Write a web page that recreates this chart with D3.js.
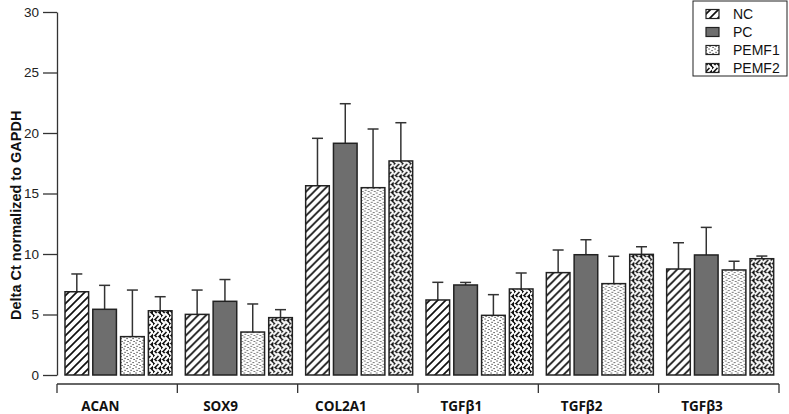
<!DOCTYPE html>
<html><head><meta charset="utf-8">
<script src="https://cdn.jsdelivr.net/npm/d3@7"></script>
<style>body{margin:0;background:#fff}svg{display:block}</style>
</head><body>
<svg id="c" width="789" height="414"></svg>
<script>
const categories = ["ACAN","SOX9","COL2A1","TGFβ1","TGFβ2","TGFβ3"];
const seriesNames = ["NC","PC","PEMF1","PEMF2"];
const NC    = [6.88, 5.01, 15.64, 6.20, 8.46, 8.76];
const NC_err= [1.47, 2.01, 3.92, 1.46, 1.87, 2.17];
const PC    = [5.43, 6.09, 19.15, 7.44, 9.94, 9.92];
const PC_err= [1.98, 1.80, 3.27, 0.21, 1.24, 2.28];
const PEMF1 = [3.17, 3.55, 15.48, 4.93, 7.55, 8.68];
const PEMF1_err=[3.85, 2.32, 4.85, 1.71, 2.26, 0.72];
const PEMF2 = [5.31, 4.74, 17.69, 7.11, 9.97, 9.61];
const PEMF2_err=[1.16, 0.66, 3.16, 1.32, 0.63, 0.22];
const yTicks = [0,5,10,15,20,25,30];
const yLabel = "Delta Ct normalized to GAPDH";

const values = {NC:NC, PC:PC, PEMF1:PEMF1, PEMF2:PEMF2};
const errs = {NC:NC_err, PC:PC_err, PEMF1:PEMF1_err, PEMF2:PEMF2_err};

const svg = d3.select("#c");
const defs = svg.append("defs");
// hatch
const ph = defs.append("pattern").attr("id","pNC").attr("patternUnits","userSpaceOnUse").attr("width",8).attr("height",8);
ph.append("rect").attr("width",8).attr("height",8).attr("fill","#fff");
ph.append("path").attr("d","M-2,2 L2,-2 M0,8 L8,0 M6,10 L10,6").attr("stroke","#111").attr("stroke-width",1.7);
// dots
const pd = defs.append("pattern").attr("id","pP1").attr("patternUnits","userSpaceOnUse").attr("width",6).attr("height",6);
pd.append("rect").attr("width",6).attr("height",6).attr("fill","#fff");
[[0.5,0.5],[3.5,2],[1.5,3.8],[4.5,5]].forEach(p=>pd.append("rect").attr("x",p[0]).attr("y",p[1]).attr("width",1.1).attr("height",1.1).attr("fill","#222"));
// weave
const pw = defs.append("pattern").attr("id","pP2").attr("patternUnits","userSpaceOnUse").attr("width",8).attr("height",8);
pw.append("rect").attr("width",8).attr("height",8).attr("fill","#111");
pw.append("path").attr("d","M0.5,0.5 L3.5,3.5 L0.5,6.5 M4.5,1.5 L7.5,4.5 M4.5,7.5 L7.5,4.5").attr("stroke","#fff").attr("stroke-width",2).attr("stroke-linecap","square").attr("fill","none");
const fills = {NC:"url(#pNC)", PC:"#6e6e6e", PEMF1:"url(#pP1)", PEMF2:"url(#pP2)"};

const y = d3.scaleLinear().domain([0,30]).range([375,12]);
const x0 = d3.scaleBand().domain(categories).range([57,779]).padding(0);
const x1 = d3.scaleBand().domain(seriesNames).range([8,115]).paddingInner(0.15);

// y axis
const yAxis = svg.append("g").attr("transform","translate(57,0)")
  .call(d3.axisLeft(y).tickValues(yTicks).tickSize(14).tickPadding(4).tickSizeOuter(0));
yAxis.select(".domain").attr("stroke","#333").attr("stroke-width",1.3);
yAxis.selectAll(".tick line").attr("stroke","#333").attr("stroke-width",1.3);
yAxis.selectAll("text").attr("font-family","Liberation Sans, Arial, sans-serif").attr("font-size",13.5).attr("fill","#222");

svg.append("text").attr("transform","translate(21,"+y(13.2)+") rotate(-90)")
  .attr("text-anchor","middle").attr("font-family","Liberation Sans, Arial, sans-serif")
  .attr("font-weight","bold").attr("font-size",14.5).attr("fill","#111").text(yLabel);

// x axis
const xg = svg.append("g").attr("transform","translate(0,384)");
xg.append("line").attr("x1",x0.range()[0]).attr("x2",x0.range()[1]).attr("stroke","#333").attr("stroke-width",1.3);
const bounds = categories.map(c=>x0(c)).concat([x0(categories[categories.length-1])+x0.bandwidth()]);
xg.selectAll(".bt").data(bounds).enter().append("line")
  .attr("x1",d=>d).attr("x2",d=>d).attr("y1",0).attr("y2",9).attr("stroke","#333").attr("stroke-width",1.3);
xg.selectAll(".lab").data(categories).enter().append("text")
  .attr("x",d=>x0(d)+x0.bandwidth()*0.36).attr("y",27).attr("text-anchor","middle")
  .attr("font-family","Open Sans, sans-serif").attr("font-weight","bold").attr("font-size",13.5).attr("fill","#111")
  .text(d=>d);

// bars
const groups = svg.selectAll(".grp").data(categories).enter().append("g")
  .attr("transform",d=>"translate("+x0(d)+",0)");
groups.each(function(c,i){
  const g = d3.select(this);
  seriesNames.forEach(s=>{
    const v = values[s][i], e = errs[s][i];
    const cx = x1(s)+x1.bandwidth()/2;
    g.append("line").attr("x1",cx).attr("x2",cx).attr("y1",y(v)).attr("y2",y(v+e)).attr("stroke","#333").attr("stroke-width",1.5);
    g.append("line").attr("x1",cx-5.5).attr("x2",cx+5.5).attr("y1",y(v+e)).attr("y2",y(v+e)).attr("stroke","#333").attr("stroke-width",1.5);
    g.append("rect").attr("x",x1(s)).attr("width",x1.bandwidth()).attr("y",y(v)).attr("height",y(0)-y(v))
      .attr("fill",fills[s]).attr("stroke","#222").attr("stroke-width",1.5);
  });
});

// legend
const lg = svg.append("g");
lg.append("rect").attr("x",693).attr("y",1).attr("width",94).attr("height",75).attr("fill","#fff").attr("stroke","#222").attr("stroke-width",1);
seriesNames.forEach((s,i)=>{
  const cy = 14 + i*18;
  lg.append("rect").attr("x",706).attr("y",cy-4.5).attr("width",13).attr("height",9).attr("fill",fills[s]).attr("stroke","#222").attr("stroke-width",1.2);
  lg.append("text").attr("x",733).attr("y",cy+5).attr("font-family","Liberation Sans, Arial, sans-serif").attr("font-size",14).attr("fill","#111").text(s);
});
</script>
</body></html>
